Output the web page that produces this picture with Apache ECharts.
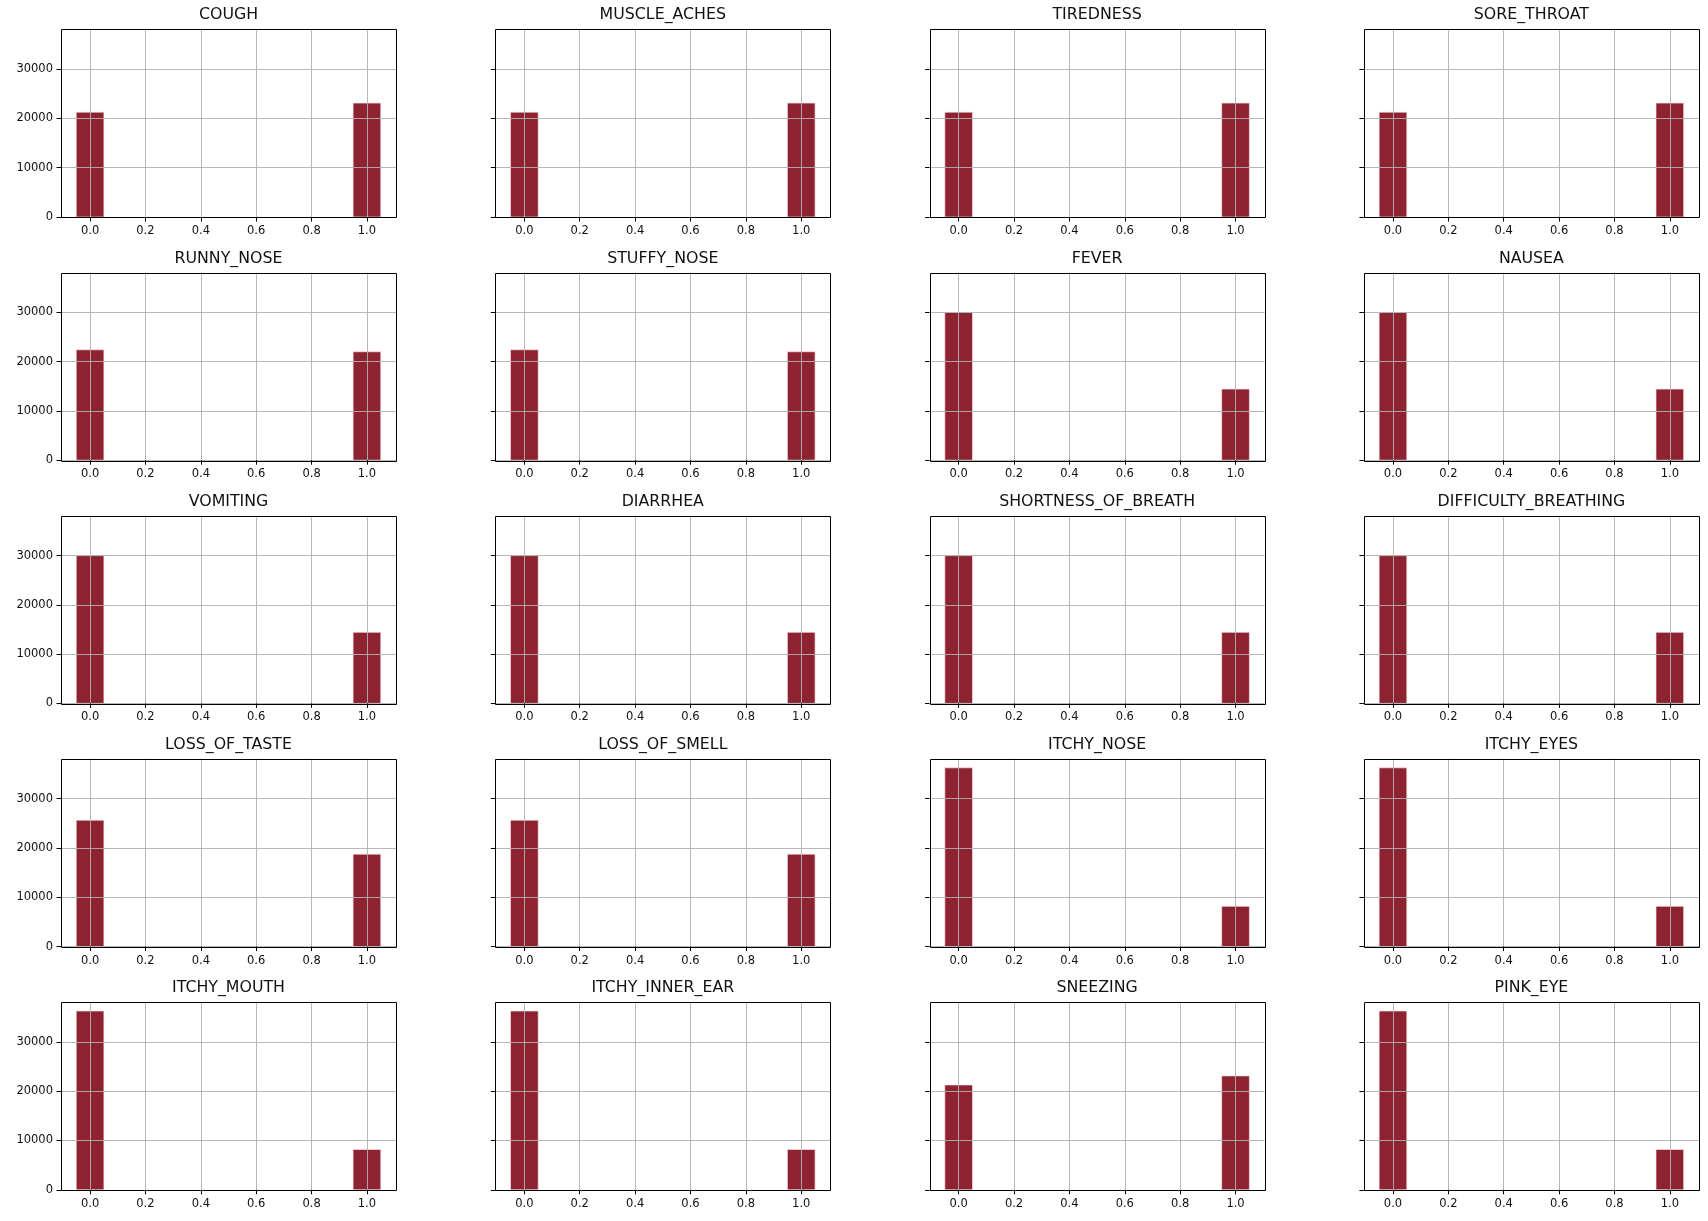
<!DOCTYPE html>
<html>
<head>
<meta charset="utf-8">
<script src="https://cdn.jsdelivr.net/npm/echarts@6/dist/echarts.min.js"></script>
<style>
html,body{margin:0;padding:0;background:#fff;}
#chart{width:1708px;height:1221px;}
</style>
</head>
<body>
<div id="chart"></div>
<script>
const symptoms = ['COUGH','MUSCLE_ACHES','TIREDNESS','SORE_THROAT','RUNNY_NOSE','STUFFY_NOSE','FEVER','NAUSEA','VOMITING','DIARRHEA','SHORTNESS_OF_BREATH','DIFFICULTY_BREATHING','LOSS_OF_TASTE','LOSS_OF_SMELL','ITCHY_NOSE','ITCHY_EYES','ITCHY_MOUTH','ITCHY_INNER_EAR','SNEEZING','PINK_EYE'];
const countsAt0 = [21270,21270,21270,21270,22400,22400,29980,29980,29980,29980,29980,29980,25640,25640,36270,36270,36270,36270,21270,36270];
const countsAt1 = [23110,23110,23110,23110,22000,22000,14420,14420,14420,14420,14420,14420,18760,18760,8170,8170,8170,8170,23110,8170];
const binLeft = [-0.05, 0.95];
const binRight = [0.05, 1.05];
const xTicks = [0, 0.2, 0.4, 0.6, 0.8, 1.0];
const yTicks = [0, 10000, 20000, 30000];
const xRange = [-0.105, 1.105];
const yMax = 38080;

const nCols = 4;
const gLeft0 = 61, gColStep = 434.3, gTop0 = 29.3, gRowStep = 243.2, gW = 335, gH = 187.7;
const barColor = '#8d2231';
const font = 'DejaVu Sans';

const grids = [], xAxes = [], yAxes = [], series = [], titles = [], graphics = [];
symptoms.forEach((name, i) => {
  const r = Math.floor(i / nCols), c = i % nCols;
  const left = gLeft0 + c * gColStep, top = gTop0 + r * gRowStep;
  grids.push({left: left, top: top, width: gW, height: gH, containLabel: false, outerBoundsMode: 'none', show: false});
  xAxes.push({
    type: 'value', gridIndex: i, min: xRange[0], max: xRange[1], z: 5,
    axisLine: {show: false, onZero: false},
    axisTick: {show: true, customValues: xTicks, length: 4.5, lineStyle: {color: '#000', width: 1}},
    axisLabel: {show: true, customValues: xTicks, margin: 8, color: '#111', fontFamily: font, fontSize: 11.5,
      formatter: v => Number(v).toFixed(1)},
    splitLine: {show: true, lineStyle: {color: '#b0b0b0', width: 0.9}}
  });
  yAxes.push({
    type: 'value', gridIndex: i, min: 0, max: yMax, z: 5,
    axisLine: {show: false, onZero: false},
    axisTick: {show: true, customValues: yTicks, length: 4.5, lineStyle: {color: '#000', width: 1}},
    axisLabel: {show: c === 0, customValues: yTicks, margin: 8, color: '#111', fontFamily: font, fontSize: 11.5,
      formatter: v => String(Math.round(v))},
    splitLine: {show: true, lineStyle: {color: '#b0b0b0', width: 0.9}}
  });
  titles.push({
    text: name, left: left + gW / 2, top: top - 22, textAlign: 'center', padding: 0,
    textStyle: {fontFamily: font, fontSize: 15.8, fontWeight: 'normal', color: '#111'}
  });
  series.push({
    type: 'custom', xAxisIndex: i, yAxisIndex: i, z: 2,
    data: [[binLeft[0], binRight[0], countsAt0[i]], [binLeft[1], binRight[1], countsAt1[i]]],
    encode: {x: [0, 1], y: 2},
    renderItem: (params, api) => {
      const p0 = api.coord([api.value(0), api.value(2)]);
      const p1 = api.coord([api.value(1), 0]);
      return {type: 'rect', shape: {x: p0[0], y: p0[1], width: p1[0] - p0[0], height: p1[1] - p0[1]},
        style: {fill: barColor, stroke: 'rgba(255,225,230,0.85)', lineWidth: 0.8}};
    }
  });
  graphics.push({
    type: 'rect', z: 100, silent: true,
    shape: {x: Math.round(left) + 0.5, y: Math.round(top) + 0.5, width: gW, height: Math.round(gH)},
    style: {fill: null, stroke: '#000', lineWidth: 1}
  });
});

const chart = echarts.init(document.getElementById('chart'), null, {renderer: 'canvas'});
chart.setOption({
  backgroundColor: '#fff',
  animation: false,
  title: titles,
  grid: grids,
  xAxis: xAxes,
  yAxis: yAxes,
  series: series,
  graphic: graphics
});
</script>
</body>
</html>
